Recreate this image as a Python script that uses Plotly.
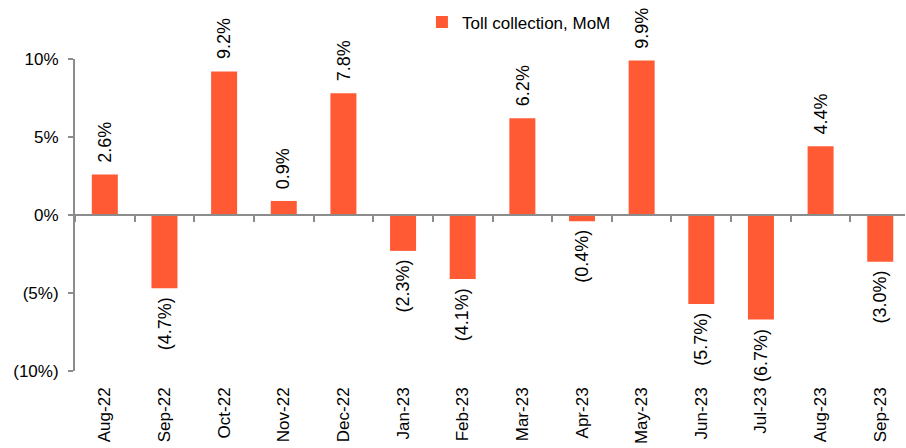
import plotly.graph_objects as go

# Monthly toll collection, month-on-month change (%)
months = ["Aug-22", "Sep-22", "Oct-22", "Nov-22", "Dec-22", "Jan-23", "Feb-23",
          "Mar-23", "Apr-23", "May-23", "Jun-23", "Jul-23", "Aug-23", "Sep-23"]
mom_change = [2.6, -4.7, 9.2, 0.9, 7.8, -2.3, -4.1, 6.2, -0.4, 9.9, -5.7, -6.7, 4.4, -3.0]

y_tickvals = [10, 5, 0, -5, -10]
y_ticktext = ["10%", "5%", "0%", "(5%)", "(10%)"]

BAR_COLOR = "#FF5A33"
AXIS_COLOR = "#8C8C8C"
FONT = "Liberation Sans, Arial, sans-serif"


def fmt(v):
    return f"{v:.1f}%" if v >= 0 else f"({abs(v):.1f}%)"


labels = [fmt(v) for v in mom_change]
n = len(months)
# last category runs slightly past the right edge of the canvas
x_range = [-0.5, n - 0.585]

fig = go.Figure()
fig.add_trace(go.Bar(
    x=list(range(n)),
    y=mom_change,
    name="Toll collection, MoM",
    marker=dict(color=BAR_COLOR, line=dict(width=0)),
    width=0.436,
    cliponaxis=False,
))

# Category boundary ticks along the zero line
fig.add_trace(go.Scatter(x=[None], y=[None], xaxis="x2", showlegend=False, hoverinfo="skip"))

# Rotated value labels just beyond the end of each bar
annotations = []
for i, (v, lab) in enumerate(zip(mom_change, labels)):
    annotations.append(dict(
        x=i, y=v, xref="x", yref="y",
        text=lab, showarrow=False, textangle=-90,
        xanchor="center",
        yanchor="bottom" if v >= 0 else "top",
        yshift=10 if v >= 0 else -7,
        font=dict(family=FONT, size=18, color="#000000"),
    ))

fig.update_layout(
    width=906,
    height=448,
    margin=dict(l=75, r=1, t=59, b=77),
    paper_bgcolor="white",
    plot_bgcolor="white",
    font=dict(family=FONT, size=17, color="#000000"),
    showlegend=True,
    legend=dict(
        x=0.418, xanchor="left",
        y=0.99, yref="container", yanchor="top",
        orientation="h",
        font=dict(family=FONT, size=17, color="#000000"),
        bgcolor="rgba(0,0,0,0)",
    ),
    annotations=annotations,
    xaxis=dict(
        range=x_range,
        tickmode="array",
        tickvals=list(range(n)),
        ticktext=months,
        tickangle=-90,
        showline=False,
        showgrid=False,
        zeroline=False,
        ticks="",
        ticklabelstandoff=12,
        tickfont=dict(family=FONT, size=17),
    ),
    xaxis2=dict(
        overlaying="x",
        anchor="free",
        position=0.5,
        range=x_range,
        tickmode="array",
        tickvals=[i + 0.5 for i in range(-1, n)],
        showticklabels=False,
        ticks="outside",
        ticklen=6,
        tickwidth=2,
        tickcolor=AXIS_COLOR,
        showline=True,
        linecolor=AXIS_COLOR,
        linewidth=2,
        showgrid=False,
        zeroline=False,
    ),
    yaxis=dict(
        range=[-10, 10],
        tickmode="array",
        tickvals=y_tickvals,
        ticktext=y_ticktext,
        showline=True,
        linecolor=AXIS_COLOR,
        linewidth=2,
        ticks="outside",
        ticklen=5,
        tickwidth=2,
        tickcolor=AXIS_COLOR,
        showgrid=False,
        zeroline=False,
        tickfont=dict(family=FONT, size=17),
        ticklabelstandoff=6,
    ),
)

fig.write_html("out.html")
